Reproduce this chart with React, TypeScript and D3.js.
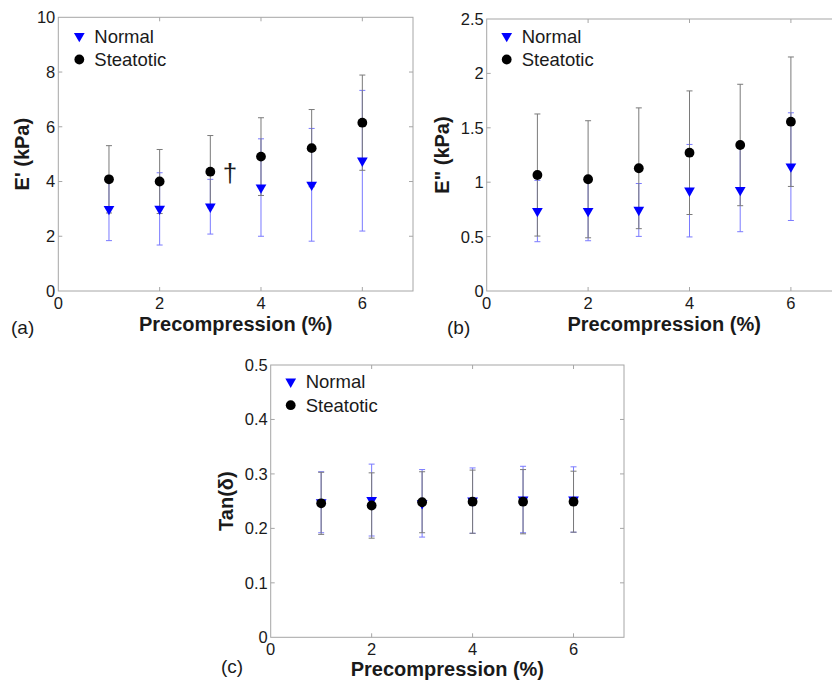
import React from 'react';
import * as d3 from 'd3';

const precompression = [1, 2, 3, 4, 5, 6];
const xTicks = [0, 2, 4, 6];

const eStorageNormal = [2.99, 3.0, 3.08, 3.78, 3.88, 4.76];
const eStorageNormalSd = [1.15, 1.32, 1.0, 1.78, 2.06, 2.57];
const eStorageSteatotic = [4.08, 4.0, 4.36, 4.91, 5.22, 6.15];
const eStorageSteatoticSd = [1.23, 1.17, 1.32, 1.42, 1.41, 1.74];

const eLossNormal = [0.735, 0.735, 0.745, 0.922, 0.928, 1.143];
const eLossNormalSd = [0.282, 0.273, 0.243, 0.425, 0.383, 0.495];
const eLossSteatotic = [1.066, 1.027, 1.128, 1.271, 1.342, 1.556];
const eLossSteatoticSd = [0.561, 0.538, 0.555, 0.568, 0.558, 0.595];

const tanNormal = [0.248, 0.252, 0.246, 0.251, 0.253, 0.253];
const tanNormalSd = [0.056, 0.066, 0.062, 0.06, 0.061, 0.06];
const tanSteatotic = [0.246, 0.242, 0.248, 0.249, 0.249, 0.249];
const tanSteatoticSd = [0.057, 0.06, 0.056, 0.058, 0.059, 0.056];

const yTicksA = [0, 2, 4, 6, 8, 10];
const yTicksB = [0, 0.5, 1, 1.5, 2, 2.5];
const yTicksC = [0, 0.1, 0.2, 0.3, 0.4, 0.5];

const legendLabels = ['Normal', 'Steatotic'];
const xLabel = 'Precompression (%)';

const FONT = "'Liberation Sans', Arial, Helvetica, sans-serif";
const AXIS_COLOR = '#a6a6a6';
const TEXT_COLOR = '#1a1a1a';
const BLUE = '#0000ff';
const BLUE_ERR = '#7a7aff';
const BLACK_ERR = '#7a7a7a';

type PanelProps = {
  x0: number; x1: number; y0: number; y1: number;
  yMax: number; yTicks: number[]; yFmt: (v: number) => string;
  yLabel: string; yLabelX: number;
  xLabelY: number;
  letter: string; letterX: number; letterY: number;
  normal: number[]; normalSd: number[]; steat: number[]; steatSd: number[];
  legendDx: number; legendDy: number;
  children?: React.ReactNode;
};

function Panel(p: PanelProps) {
  const xs = d3.scaleLinear().domain([0, 7]).range([p.x0, p.x1]);
  const ys = d3.scaleLinear().domain([0, p.yMax]).range([p.y1, p.y0]);
  const tri = d3.symbol(d3.symbolTriangle, 50)() as string;
  const tickLen = 4;
  const cap = 3;
  const errBars = (means: number[], sds: number[], color: string) =>
    precompression.map((xv, i) => {
      const cx = xs(xv);
      const lo = ys(means[i] - sds[i]);
      const hi = ys(means[i] + sds[i]);
      return (
        <g key={i} stroke={color} strokeWidth={1}>
          <line x1={cx} x2={cx} y1={lo} y2={hi} />
          <line x1={cx - cap} x2={cx + cap} y1={lo} y2={lo} />
          <line x1={cx - cap} x2={cx + cap} y1={hi} y2={hi} />
        </g>
      );
    });
  const lx = p.x0 + p.legendDx;
  const ly = p.y0 + p.legendDy;
  return (
    <g fontFamily={FONT}>
      <rect x={p.x0} y={p.y0} width={p.x1 - p.x0} height={p.y1 - p.y0} fill="none" stroke={AXIS_COLOR} strokeWidth={1} />
      {xTicks.map((t) => (
        <g key={'xt' + t}>
          {t > 0 && (
            <>
              <line x1={xs(t)} x2={xs(t)} y1={p.y1} y2={p.y1 - tickLen} stroke={AXIS_COLOR} />
              <line x1={xs(t)} x2={xs(t)} y1={p.y0} y2={p.y0 + tickLen} stroke={AXIS_COLOR} />
            </>
          )}
          <text x={xs(t)} y={p.y1 + 18} textAnchor="middle" fontSize={16.5} fill={TEXT_COLOR}>{t}</text>
        </g>
      ))}
      {p.yTicks.map((t) => (
        <g key={'yt' + t}>
          {t > 0 && t < p.yMax && (
            <>
              <line x1={p.x0} x2={p.x0 + tickLen} y1={ys(t)} y2={ys(t)} stroke={AXIS_COLOR} />
              <line x1={p.x1} x2={p.x1 - tickLen} y1={ys(t)} y2={ys(t)} stroke={AXIS_COLOR} />
            </>
          )}
          <text x={p.x0 - 3} y={ys(t)} dy="0.36em" textAnchor="end" fontSize={16.5} fill={TEXT_COLOR}>{p.yFmt(t)}</text>
        </g>
      ))}
      {errBars(p.normal, p.normalSd, BLUE_ERR)}
      {errBars(p.steat, p.steatSd, BLACK_ERR)}
      {precompression.map((xv, i) => (
        <path key={'n' + i} d={tri} transform={`translate(${xs(xv)},${ys(p.normal[i])}) rotate(180)`} fill={BLUE} />
      ))}
      {precompression.map((xv, i) => (
        <circle key={'s' + i} cx={xs(xv)} cy={ys(p.steat[i])} r={4.9} fill="#000" />
      ))}
      <path d={tri} transform={`translate(${lx},${ly}) rotate(180)`} fill={BLUE} />
      <text x={lx + 15} y={ly} dy="0.36em" fontSize={18.5} fill={TEXT_COLOR}>{legendLabels[0]}</text>
      <circle cx={lx} cy={ly + 23.5} r={4.9} fill="#000" />
      <text x={lx + 15} y={ly + 23.5} dy="0.36em" fontSize={18.5} fill={TEXT_COLOR}>{legendLabels[1]}</text>
      <text x={(p.x0 + p.x1) / 2} y={p.xLabelY} textAnchor="middle" fontSize={20} fontWeight="bold" fill={TEXT_COLOR}>{xLabel}</text>
      <text transform={`translate(${p.yLabelX},${(p.y0 + p.y1) / 2}) rotate(-90)`} textAnchor="middle" dy="0.36em" fontSize={20} fontWeight="bold" fill={TEXT_COLOR}>{p.yLabel}</text>
      <text x={p.letterX} y={p.letterY} fontSize={19} fill={TEXT_COLOR}>{p.letter}</text>
      {p.children}
    </g>
  );
}

export default function App() {
  const fmtInt = (v: number) => d3.format('d')(v);
  const fmtGen = (v: number) => String(v);
  return (
    <svg width={832} height={682} style={{ position: 'absolute', left: 0, top: 0, background: '#fff' }}>
      <rect width={832} height={682} fill="#fff" />
      <Panel x0={58.3} x1={413} y0={17.3} y1={291} yMax={10} yTicks={yTicksA} yFmt={fmtInt}
        yLabel="E' (kPa)" yLabelX={22} xLabelY={331} letter="(a)" letterX={11} letterY={334}
        normal={eStorageNormal} normalSd={eStorageNormalSd} steat={eStorageSteatotic} steatSd={eStorageSteatoticSd}
        legendDx={21} legendDy={18.7}>
        <text x={230} y={182} textAnchor="middle" fontSize={26} fontFamily={FONT} fill={TEXT_COLOR}>†</text>
      </Panel>
      <Panel x0={486.7} x1={841.6} y0={19} y1={291} yMax={2.5} yTicks={yTicksB} yFmt={fmtGen}
        yLabel={'E" (kPa)'} yLabelX={442} xLabelY={331} letter="(b)" letterX={447} letterY={334}
        normal={eLossNormal} normalSd={eLossNormalSd} steat={eLossSteatotic} steatSd={eLossSteatoticSd}
        legendDx={20} legendDy={17} />
      <Panel x0={270.7} x1={624} y0={365} y1={637.3} yMax={0.5} yTicks={yTicksC} yFmt={fmtGen}
        yLabel="Tan(δ)" yLabelX={226} xLabelY={676} letter="(c)" letterX={221} letterY={673}
        normal={tanNormal} normalSd={tanNormalSd} steat={tanSteatotic} steatSd={tanSteatoticSd}
        legendDx={20} legendDy={16.7} />
    </svg>
  );
}
